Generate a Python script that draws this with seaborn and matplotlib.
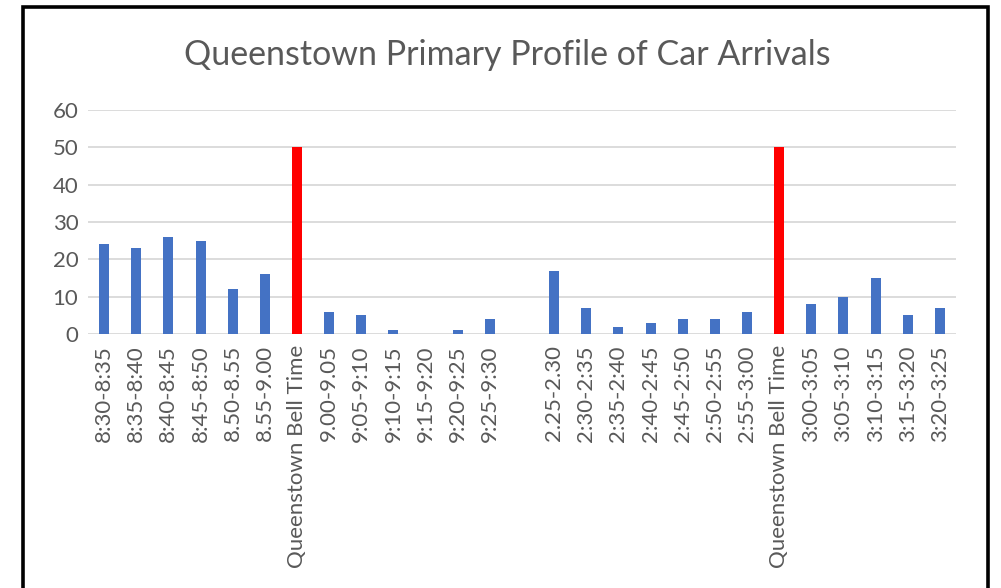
import matplotlib

matplotlib.use("Agg")
import matplotlib.pyplot as plt
import numpy as np
import pandas as pd
import seaborn as sns
from matplotlib.patches import Rectangle

TITLE = "Queenstown Primary Profile of Car Arrivals"

TIME_LABELS = [
    "8:30-8:35", "8:35-8:40", "8:40-8:45", "8:45-8:50", "8.50-8.55", "8.55-9.00",
    "Queenstown Bell Time",
    "9.00-9.05", "9:05-9:10", "9:10-9:15", "9:15-9:20", "9:20-9:25", "9:25-9:30",
    "",
    "2.25-2.30", "2:30-2:35", "2:35-2:40", "2:40-2:45", "2:45-2:50", "2:50-2:55", "2:55-3:00",
    "Queenstown Bell Time",
    "3:00-3:05", "3:05-3:10", "3:10-3:15", "3:15-3:20", "3:20-3:25",
]

ARRIVALS = [
    24, 23, 26, 25, 12, 16,
    50,
    6, 5, 1, 0, 1, 4,
    0,
    17, 7, 2, 3, 4, 4, 6,
    50,
    8, 10, 15, 5, 7,
]

Y_TICKS = [0, 10, 20, 30, 40, 50, 60]

BLUE = "#4472C4"
RED = "#FF0000"
TEXT = "#595959"
GRID = "#D9D9D9"

sns.set_theme(style="white")
plt.rcParams["font.family"] = ["Lato", "DejaVu Sans"]

data = pd.DataFrame({
    "pos": np.arange(len(TIME_LABELS)),
    "arrivals": ARRIVALS,
    "kind": ["bell" if lab.startswith("Queenstown") else "cars" for lab in TIME_LABELS],
})

fig = plt.figure(figsize=(10.01, 5.88), dpi=100)
ax = fig.add_axes([88 / 1001, 1 - 334 / 588, 868 / 1001, 224 / 588])

sns.barplot(
    data=data,
    x="pos",
    y="arrivals",
    hue="kind",
    palette={"cars": BLUE, "bell": RED},
    dodge=False,
    width=0.31,
    saturation=1,
    legend=False,
    linewidth=0,
    ax=ax,
)

ax.set_xlim(-0.5, len(TIME_LABELS) - 0.5)
ax.set_ylim(0, 60)
ax.set_yticks(Y_TICKS)
ax.set_xticks(range(len(TIME_LABELS)))
ax.set_xticklabels(TIME_LABELS, rotation=90, color=TEXT, fontsize=16)
ax.tick_params(axis="y", labelsize=16, labelcolor=TEXT, length=0, pad=7)
ax.tick_params(axis="x", length=0, pad=8)
ax.set_xlabel("")
ax.set_ylabel("")
for s in ax.spines.values():
    s.set_visible(False)
ax.yaxis.grid(True, color=GRID, linewidth=1.3)
ax.set_axisbelow(True)

fig.text(0.5065, 1 - 55 / 588, TITLE, ha="center", va="center", fontsize=24.5, color=TEXT)

# chart frame
fig.patches.append(Rectangle((22.5 / 1001, -0.05), 965 / 1001, 1.05 - 7 / 588,
                             transform=fig.transFigure, fill=False,
                             edgecolor="black", linewidth=2.6))

fig.savefig("out.png", dpi=100)
